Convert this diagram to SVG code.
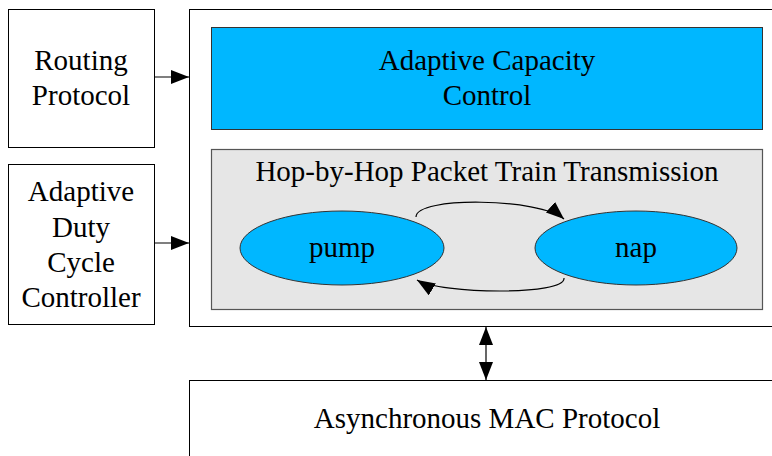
<svg xmlns="http://www.w3.org/2000/svg" width="772" height="456" viewBox="0 0 772 456">
<defs>
<style>
.t{font-family:'Liberation Serif','Times New Roman',Times,serif;font-size:29px;fill:#000;text-anchor:middle}
.box{fill:#fff;stroke:#000;stroke-width:1}
.blue{fill:#00b7ff;stroke:#333;stroke-width:1}
.gray{fill:#e6e6e6;stroke:#555;stroke-width:1.2}
.con{fill:none;stroke:#000;stroke-width:1.2}
</style>
<marker id="ah" markerWidth="20" markerHeight="14" refX="18" refY="7" orient="auto" markerUnits="userSpaceOnUse">
<path d="M0,0 L18,7 L0,14 Z" fill="#000"/>
</marker>
<marker id="ahs" markerWidth="20" markerHeight="14" refX="0" refY="7" orient="auto" markerUnits="userSpaceOnUse">
<path d="M18,0 L0,7 L18,14 Z" fill="#000"/>
</marker>
</defs>
<g id="routing">
<rect class="box" x="8.5" y="9.5" width="146" height="138"/>
<text class="t" x="81" y="70">Routing</text>
<text class="t" x="81" y="105">Protocol</text>
</g>
<g id="duty">
<rect class="box" x="8.5" y="164.5" width="146" height="160"/>
<text class="t" x="81" y="201">Adaptive</text>
<text class="t" x="81" y="237">Duty</text>
<text class="t" x="81" y="272">Cycle</text>
<text class="t" x="81" y="307">Controller</text>
</g>
<g id="container">
<rect class="box" x="189.5" y="9.5" width="600" height="317"/>
</g>
<g id="capacity">
<rect class="blue" x="211.5" y="27.5" width="551" height="102"/>
<text class="t" x="487" y="70">Adaptive Capacity</text>
<text class="t" x="487" y="105">Control</text>
</g>
<g id="hop">
<rect class="gray" x="211.5" y="149.5" width="551" height="160"/>
<text class="t" x="487" y="181">Hop-by-Hop Packet Train Transmission</text>
</g>
<g id="pump">
<ellipse class="blue" cx="342" cy="248" rx="102" ry="37"/>
<text class="t" x="342" y="257">pump</text>
</g>
<g id="nap">
<ellipse class="blue" cx="636" cy="248" rx="101" ry="37"/>
<text class="t" x="636" y="257">nap</text>
</g>
<g id="mac">
<rect class="box" x="189.5" y="380.5" width="600" height="100"/>
<text class="t" x="487" y="428">Asynchronous MAC Protocol</text>
</g>
<g id="connectors">
<line class="con" x1="154" y1="77" x2="189" y2="77" marker-end="url(#ah)"/>
<line class="con" x1="154" y1="243" x2="189" y2="243" marker-end="url(#ah)"/>
<line class="con" x1="486" y1="327" x2="486" y2="380" marker-start="url(#ahs)" marker-end="url(#ah)"/>
<path class="con" d="M416,217 C416,196 540,198 564,219" marker-end="url(#ah)"/>
<path class="con" d="M564,278 C566,296 440,294 417,280" marker-end="url(#ah)"/>
</g>
</svg>
